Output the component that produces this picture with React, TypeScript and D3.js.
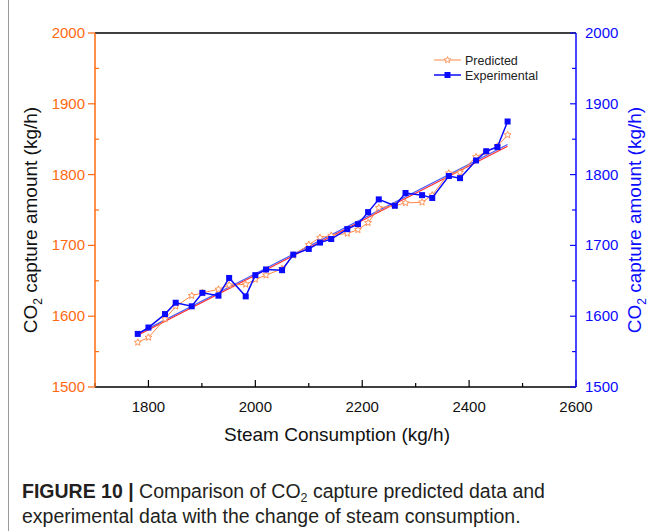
import React from "react";
import * as d3 from "d3";

// Steam consumption (kg/h) at each operating point
const steam = [1780, 1800, 1831, 1851, 1881, 1901, 1931, 1951, 1982, 2000, 2020, 2050, 2071, 2100, 2121, 2142, 2172, 2192, 2211, 2231, 2261, 2281, 2312, 2331, 2362, 2383, 2413, 2432, 2453, 2472];
// Predicted CO2 capture amount (kg/h)
const predicted = [1563, 1570, 1596, 1614, 1629, 1633, 1638, 1644, 1645, 1652, 1658, 1667, 1686, 1701, 1711, 1714, 1717, 1722, 1732, 1753, 1756, 1760, 1761, 1771, 1802, 1803, 1825, 1832, 1840, 1856];
// Experimental CO2 capture amount (kg/h)
const experimental = [1575, 1584, 1603, 1619, 1614, 1633, 1629, 1654, 1628, 1658, 1666, 1665, 1687, 1695, 1704, 1709, 1723, 1730, 1747, 1765, 1756, 1774, 1771, 1767, 1798, 1795, 1820, 1833, 1839, 1875];

const xTicks = [1800, 2000, 2200, 2400, 2600];
const yTicks = [1500, 1600, 1700, 1800, 1900, 2000];
const seriesNames = ["Predicted", "Experimental"];

const ORANGE = "#ff6a10";
const ORANGE_LINE = "#ff8a4a";
const BLUE = "#0a0aff";
const FONT = "Liberation Sans, Arial, sans-serif";
const CAPTION_FONT = "Liberation Sans Narrow, Liberation Sans, Arial, sans-serif";

const W = 654;
const H = 531;
const M = { left: 95, right: 576, top: 33, bottom: 387 };

function linFit(xs: number[], ys: number[]) {
  const mx = d3.mean(xs)!;
  const my = d3.mean(ys)!;
  let num = 0;
  let den = 0;
  xs.forEach((x, i) => {
    num += (x - mx) * (ys[i] - my);
    den += (x - mx) * (x - mx);
  });
  const b = num / den;
  const a = my - b * mx;
  return (x: number) => a + b * x;
}

function Star({ cx, cy, r }: { cx: number; cy: number; r: number }) {
  const pts: string[] = [];
  for (let i = 0; i < 10; i++) {
    const rad = i % 2 === 0 ? r : r * 0.45;
    const a = -Math.PI / 2 + (i * Math.PI) / 5;
    pts.push(`${cx + rad * Math.cos(a)},${cy + rad * Math.sin(a)}`);
  }
  return <polygon points={pts.join(" ")} fill="white" stroke={ORANGE_LINE} strokeWidth={0.9} />;
}

export default function App() {
  const x = d3.scaleLinear().domain([1700, 2600]).range([M.left, M.right]);
  const y = d3.scaleLinear().domain([1500, 2000]).range([M.bottom, M.top]);

  const line = d3
    .line<[number, number]>()
    .x((d) => x(d[0]))
    .y((d) => y(d[1]));

  const predPts = steam.map((s, i) => [s, predicted[i]] as [number, number]);
  const expPts = steam.map((s, i) => [s, experimental[i]] as [number, number]);

  const fitP = linFit(steam, predicted);
  const fitE = linFit(steam, experimental);
  const x0 = d3.min(steam)!;
  const x1 = d3.max(steam)!;

  const xMinor = d3.range(1700, 2601, 100);
  const yMinor = d3.range(1500, 2001, 50);

  return (
    <svg width={W} height={H} style={{ position: "absolute", left: 0, top: 0 }} fontFamily={FONT}>
      <rect x={0} y={0} width={W} height={H} fill="white" />
      {/* figure frame */}
      <line x1={8.5} y1={0} x2={8.5} y2={H} stroke="#9a9a9a" strokeWidth={1} />

      {/* frame: top and bottom */}
      <line x1={M.left} x2={M.right} y1={M.top} y2={M.top} stroke="#000" strokeWidth={1.3} />
      <line x1={M.left} x2={M.right} y1={M.bottom} y2={M.bottom} stroke="#000" strokeWidth={1.3} />

      {/* bottom axis ticks */}
      {xMinor.map((v) => {
        const major = v % 200 === 0;
        return (
          <line key={"xt" + v} x1={x(v)} x2={x(v)} y1={M.bottom} y2={M.bottom - (major ? 7 : 4)} stroke="#000" strokeWidth={1.2} />
        );
      })}
      {xTicks.map((v) => (
        <text key={"xl" + v} x={x(v)} y={M.bottom + 25} textAnchor="middle" fontSize={15} fill="#111">
          {v}
        </text>
      ))}
      <text x={337} y={441} textAnchor="middle" fontSize={19} fill="#111">
        Steam Consumption (kg/h)
      </text>

      {/* left axis */}
      <line x1={M.left} x2={M.left} y1={M.top} y2={M.bottom} stroke={ORANGE} strokeWidth={1.5} />
      {yMinor.map((v) => {
        const major = v % 100 === 0;
        return (
          <line key={"yl" + v} x1={M.left} x2={major ? M.left - 7 : M.left + 4} y1={y(v)} y2={y(v)} stroke={ORANGE} strokeWidth={1.2} />
        );
      })}
      {yTicks.map((v) => (
        <text key={"ylt" + v} x={M.left - 10} y={y(v) + 5} textAnchor="end" fontSize={15} fill={ORANGE}>
          {v}
        </text>
      ))}
      <text transform={`translate(37,220) rotate(-90)`} textAnchor="middle" fontSize={19} fill="#111">
        CO<tspan fontSize={12} dy={5}>2</tspan>
        <tspan dy={-5}> capture amount (kg/h)</tspan>
      </text>

      {/* right axis */}
      <line x1={M.right} x2={M.right} y1={M.top} y2={M.bottom} stroke={BLUE} strokeWidth={1.5} />
      {yMinor.map((v) => {
        const major = v % 100 === 0;
        return (
          <line key={"yr" + v} x1={M.right} x2={M.right - (major ? 6 : 4)} y1={y(v)} y2={y(v)} stroke={BLUE} strokeWidth={1.2} />
        );
      })}
      {yTicks.map((v) => (
        <text key={"yrt" + v} x={M.right + 9} y={y(v) + 5} textAnchor="start" fontSize={15} fill={BLUE}>
          {v}
        </text>
      ))}
      <text transform={`translate(641,220) rotate(-90)`} textAnchor="middle" fontSize={19} fill={BLUE}>
        CO<tspan fontSize={12} dy={5}>2</tspan>
        <tspan dy={-5}> capture amount (kg/h)</tspan>
      </text>

      {/* linear fits */}
      <line x1={x(x0)} x2={x(x1)} y1={y(fitE(x0))} y2={y(fitE(x1))} stroke="#4a5cff" strokeWidth={1.3} />
      <line x1={x(x0)} x2={x(x1)} y1={y(fitP(x0))} y2={y(fitP(x1))} stroke="#ff2a2a" strokeWidth={1.1} />

      {/* predicted series */}
      <path d={line(predPts)!} fill="none" stroke={ORANGE_LINE} strokeWidth={1} />
      {predPts.map((d, i) => (
        <Star key={"p" + i} cx={x(d[0])} cy={y(d[1])} r={3.6} />
      ))}

      {/* experimental series */}
      <path d={line(expPts)!} fill="none" stroke={BLUE} strokeWidth={1.5} />
      {expPts.map((d, i) => (
        <rect key={"e" + i} x={x(d[0]) - 3} y={y(d[1]) - 3} width={6} height={6} fill={BLUE} />
      ))}

      {/* legend */}
      <g>
        <line x1={434} x2={461} y1={60} y2={60} stroke={ORANGE_LINE} strokeWidth={1} />
        <Star cx={447.5} cy={60} r={3.4} />
        <text x={465} y={64.5} fontSize={12.5} fill="#222">{seriesNames[0]}</text>
        <line x1={434} x2={461} y1={75} y2={75} stroke={BLUE} strokeWidth={1.5} />
        <rect x={444.5} y={72} width={6} height={6} fill={BLUE} />
        <text x={465} y={79.5} fontSize={12.5} fill="#222">{seriesNames[1]}</text>
      </g>

      {/* caption */}
      <text x={22} y={498} fontSize={19.5} fill="#231f20" fontFamily={CAPTION_FONT}>
        <tspan fontWeight="bold">FIGURE 10 | </tspan>
        <tspan>Comparison of CO</tspan>
        <tspan fontSize={12.5} dy={4}>2</tspan>
        <tspan dy={-4}> capture predicted data and</tspan>
      </text>
      <text x={22} y={523} fontSize={19.5} fill="#231f20" fontFamily={CAPTION_FONT}>
        experimental data with the change of steam consumption.
      </text>
    </svg>
  );
}
